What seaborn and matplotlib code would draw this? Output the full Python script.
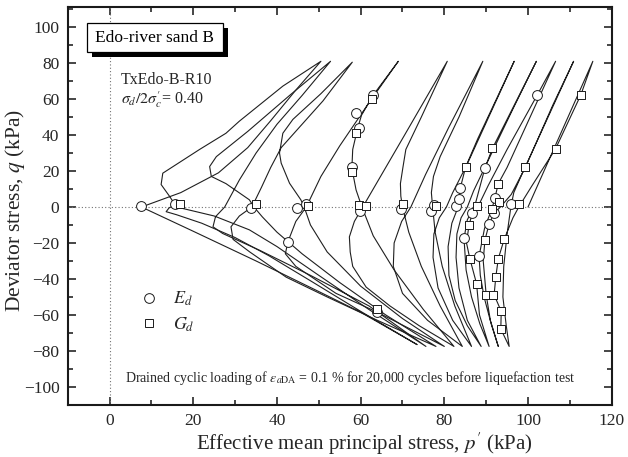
import numpy as np
import pandas as pd
import seaborn as sns
import matplotlib
matplotlib.use("Agg")
import matplotlib.pyplot as plt
from matplotlib.lines import Line2D
from matplotlib.patches import Rectangle
from matplotlib.ticker import MultipleLocator

# ---- effective stress path, one list pair per loading cycle (p' , q in kPa) ----
p_c01 = [100.0, 115.5, 112.6, 106.6, 101.0, 97.8, 96.4, 94.3, 92.9, 92.3, 91.9, 93.6, 93.5, 95.5, 94.8, 94.0, 94.2, 95.0, 95.9]
q_c01 = [0.0, 81.0, 62.2, 32.4, 12.0, 0.0, -6.0, -18.0, -28.7, -38.9, -48.8, -58.0, -67.8, -77.5, -66.0, -50.0, -33.0, -15.0, 0.0]

p_c02 = [95.9, 96.6, 98.5, 110.9, 106.0, 99.4, 96.0, 93.4, 91.9, 90.7, 89.7, 89.3, 90.0, 91.0, 92.9, 91.2, 89.5, 88.6, 88.3, 89.6, 91.5]
q_c02 = [0.0, 8.0, 18.0, 81.0, 57.0, 22.2, 7.0, 0.0, -3.5, -9.5, -18.4, -30.0, -48.8, -63.0, -77.5, -65.0, -50.0, -38.0, -27.4, -12.0, 0.0]

p_c03 = [91.5, 92.1, 92.9, 95.0, 106.6, 102.2, 95.0, 90.5, 88.0, 86.7, 85.9, 85.3, 86.1, 87.7, 88.4, 90.7, 88.5, 86.5, 85.2, 84.7, 85.5, 87.2]
q_c03 = [0.0, 5.2, 13.0, 22.0, 81.0, 62.2, 32.0, 12.0, 0.0, -3.5, -10.0, -20.0, -28.7, -42.6, -60.0, -77.5, -65.0, -50.0, -35.0, -17.5, -7.0, 0.0]

p_c04 = [87.2, 87.9, 89.7, 91.5, 102.0, 96.5, 90.5, 87.0, 85.5, 84.0, 83.0, 82.8, 83.5, 85.5, 88.8, 85.5, 82.6, 81.1, 80.9, 81.8, 83.3]
q_c04 = [0.0, 6.0, 21.6, 32.6, 81.0, 55.0, 26.0, 9.0, 0.0, -6.0, -15.0, -28.0, -45.0, -63.0, -77.5, -66.0, -52.0, -38.0, -22.0, -9.0, 0.0]

p_c05 = [83.3, 83.4, 83.8, 85.1, 88.0, 96.7, 91.0, 85.5, 82.0, 80.5, 78.8, 77.5, 77.3, 78.5, 82.0, 86.5, 82.5, 79.5, 77.8, 77.2]
q_c05 = [0.0, 4.3, 10.4, 22.3, 38.0, 81.0, 52.0, 24.0, 8.0, 0.0, -6.0, -15.0, -28.0, -45.0, -63.0, -77.5, -55.0, -33.0, -14.0, 0.0]

p_c06 = [77.2, 76.9, 77.4, 79.0, 83.5, 89.2, 81.0, 75.5, 72.0, 69.8, 68.0, 67.8, 70.0, 76.0, 84.3, 79.0, 74.5, 71.5, 70.0]
q_c06 = [0.0, 8.0, 17.0, 28.0, 50.0, 81.0, 44.0, 18.0, 0.0, -8.0, -20.0, -33.0, -48.0, -63.0, -77.5, -55.0, -33.0, -14.0, 0.0]

p_c07 = [70.0, 69.6, 69.5, 70.1, 70.8, 74.5, 80.7, 70.5, 60.5, 58.5, 57.3, 57.5, 58.1, 61.3, 67.0, 74.0, 82.3, 75.0, 68.0, 63.0, 60.3]
q_c07 = [0.0, 6.0, 13.0, 22.0, 32.0, 50.0, 81.0, 40.0, 0.0, -8.0, -16.6, -25.0, -33.0, -44.5, -55.0, -66.0, -77.5, -57.0, -35.0, -16.0, 0.0]

p_c08 = [60.3, 58.9, 57.9, 58.1, 59.3, 60.2, 63.0, 69.0, 62.0, 55.0, 50.5, 47.0, 44.5, 42.6, 42.0, 44.5, 54.1, 64.0, 72.0, 80.0, 70.0, 60.0, 52.0, 48.0, 46.5]
q_c08 = [0.0, 9.5, 21.6, 32.0, 44.0, 51.0, 62.2, 81.0, 58.0, 34.0, 17.0, 0.0, -8.0, -19.4, -26.0, -33.0, -48.0, -58.5, -68.0, -77.5, -62.0, -44.0, -25.0, -10.0, 0.0]

p_c09 = [46.5, 45.7, 43.0, 41.0, 40.6, 41.4, 43.8, 50.5, 58.0, 51.0, 46.0, 41.0, 38.5, 36.3, 34.0, 31.0, 29.0, 29.5, 33.5, 42.2, 52.0, 64.0, 78.0, 66.0, 55.0, 46.0, 40.0, 36.5, 34.5]
q_c09 = [0.0, 4.0, 13.2, 24.4, 30.0, 41.0, 48.7, 63.0, 80.5, 59.0, 46.0, 33.0, 22.0, 11.0, 0.0, -5.0, -11.0, -18.0, -25.0, -39.0, -50.0, -63.0, -77.5, -60.0, -42.0, -26.0, -14.0, -5.5, 0.0]

p_c10 = [34.5, 33.4, 27.8, 24.3, 23.9, 25.5, 33.0, 43.0, 52.8, 46.0, 40.0, 35.0, 31.0, 27.5, 25.3, 24.7, 27.0, 35.8, 48.0, 62.0, 75.6, 62.0, 50.0, 40.0, 33.4, 25.0, 16.0]
q_c10 = [0.0, 4.0, 13.0, 17.0, 22.5, 28.0, 42.0, 62.0, 81.0, 62.0, 46.0, 30.0, 15.0, 0.0, -5.4, -11.0, -14.7, -24.0, -38.0, -55.0, -77.5, -57.0, -38.0, -22.0, -12.7, -5.0, 0.0]

p_c11 = [16.0, 14.3, 12.3, 12.7, 21.5, 27.8, 31.0, 41.4, 50.5, 44.5, 38.5, 33.0, 26.0, 17.0, 7.6, 20.0, 35.0, 50.0, 60.0, 73.5, 60.0, 48.0, 38.0, 30.0, 22.0, 16.0, 13.5, 14.2, 15.9]
q_c11 = [0.0, 6.0, 12.5, 18.8, 32.0, 41.0, 47.7, 67.2, 81.0, 65.0, 48.0, 33.0, 19.0, 8.0, 0.0, -13.5, -30.0, -47.0, -58.5, -76.5, -58.0, -41.0, -27.0, -17.0, -9.0, -4.3, -2.6, -0.5, 1.5]

# ---- small-strain stiffness measurement points ----
ed_p = [7.6, 15.5, 33.8, 44.7, 46.9, 42.6, 58.9, 59.5, 58.0, 63.0, 59.9, 69.6, 76.8, 77.6, 82.7, 83.4,
        83.8, 86.7, 89.7, 92.1, 91.9, 90.7, 84.7, 88.3, 95.9, 102.2, 64.0]
ed_q = [0.3, 1.5, -0.8, -0.5, 1.5, -19.4, 52.3, 44.0, 22.5, 62.2, -2.0, -1.0, -2.0, 1.0, 0.3, 4.3,
        10.4, -3.5, 21.6, 5.2, -3.5, -9.5, -17.5, -27.4, 1.5, 62.2, -58.5]

gd_p = [16.7, 35.0, 47.3, 59.0, 57.9, 62.6, 59.7, 61.3, 70.2, 78.0, 85.1, 87.9, 91.5, 92.9, 93.0,
        91.5, 97.8, 99.4, 106.6, 112.6, 63.8, 85.9, 86.1, 87.7, 89.7, 90.0, 91.7, 92.3, 92.9, 94.3,
        93.6, 93.5]
gd_q = [1.5, 1.5, 0.5, 41.3, 19.7, 60.0, 1.0, 0.5, 1.5, 0.5, 22.3, 0.5, 32.6, 13.0, 2.6,
        -1.0, 1.5, 22.2, 32.4, 62.2, -56.5, -10.0, -28.7, -42.6, -18.4, -48.8, -48.8, -38.9, -28.7, -18.0,
        -58.0, -67.8]

x_ticks = [0, 20, 40, 60, 80, 100, 120]
y_ticks = [-100, -80, -60, -40, -20, 0, 20, 40, 60, 80, 100]

cycles = [(p_c01, q_c01), (p_c02, q_c02), (p_c03, q_c03), (p_c04, q_c04), (p_c05, q_c05),
          (p_c06, q_c06), (p_c07, q_c07), (p_c08, q_c08), (p_c09, q_c09), (p_c10, q_c10),
          (p_c11, q_c11)]
path = pd.concat(
    [pd.DataFrame({"p": p, "q": q, "cycle": i + 1, "step": range(len(p))})
     for i, (p, q) in enumerate(cycles)],
    ignore_index=True,
)
ed = pd.DataFrame({"p": ed_p, "q": ed_q})
gd = pd.DataFrame({"p": gd_p, "q": gd_q})

sns.set_style("ticks")
plt.rcParams["font.family"] = ["Liberation Serif", "DejaVu Serif", "DejaVu Sans"]
plt.rcParams["mathtext.fontset"] = "stix"

fig = plt.figure(figsize=(6.28, 4.57), dpi=100)
ax = fig.add_axes([0.108, 0.114, 0.866, 0.870])

# reference axes
ax.axhline(0, color="0.45", lw=0.8, ls=(0, (1, 2)), zorder=1)
ax.axvline(0, color="0.45", lw=0.8, ls=(0, (1, 2)), zorder=1)

sns.lineplot(data=path, x="p", y="q", units="cycle", estimator=None, sort=False,
             color="0.12", lw=0.8, ax=ax, zorder=2)
sns.scatterplot(data=ed, x="p", y="q", marker="o", s=50, facecolor="white",
                edgecolor="0.1", linewidth=0.7, ax=ax, zorder=3)
sns.scatterplot(data=gd, x="p", y="q", marker="s", s=38, facecolor="white",
                edgecolor="0.1", linewidth=0.7, ax=ax, zorder=3)

ax.set_xlim(-10, 120)
ax.set_ylim(-110, 111)
ax.set_xticks(x_ticks)
ax.set_yticks(y_ticks)
ax.xaxis.set_minor_locator(MultipleLocator(10))
ax.yaxis.set_minor_locator(MultipleLocator(10))
ax.tick_params(which="both", direction="in", top=True, right=True, width=1.2, labelsize=12.5)
ax.tick_params(which="major", length=6, pad=6)
ax.tick_params(which="minor", length=3.5)
for s in ax.spines.values():
    s.set_linewidth(1.5)
    s.set_color("0.1")

ax.set_xlabel("Effective mean principal stress, $p'$ (kPa)", fontsize=15)
ax.set_ylabel("Deviator stress, $q$ (kPa)", fontsize=15.5)
ax.xaxis.set_label_coords(0.545, -0.064)
ax.yaxis.set_label_coords(-0.075, 0.49)

# title box with drop shadow
ax.add_patch(Rectangle((0.044, 0.876), 0.25, 0.072, transform=ax.transAxes,
                       fc="black", ec="black", lw=0, zorder=5))
ax.add_patch(Rectangle((0.035, 0.888), 0.25, 0.072, transform=ax.transAxes,
                       fc="white", ec="black", lw=0.9, zorder=6))
ax.text(0.16, 0.924, "Edo-river sand B", transform=ax.transAxes, ha="center", va="center",
        fontsize=12.5, color="black", zorder=7)

ax.text(0.097, 0.818, "TxEdo-B-R10", transform=ax.transAxes, ha="left", va="center", fontsize=11.5)
ax.text(0.097, 0.768, r"$\sigma_d/2\sigma_c'$= 0.40", transform=ax.transAxes, ha="left",
        va="center", fontsize=11.5)

ax.text(0.52, 0.068,
        r"Drained cyclic loading of $\varepsilon_{a\mathrm{DA}}$ = 0.1 % for 20,000 cycles before liquefaction test",
        transform=ax.transAxes, ha="center", va="center", fontsize=10)

handles = [Line2D([], [], marker="o", ls="none", mfc="white", mec="0.1", mew=0.7, ms=7),
           Line2D([], [], marker="s", ls="none", mfc="white", mec="0.1", mew=0.7, ms=6)]
ax.legend(handles, ["$E_d$", "$G_d$"], loc="upper left", bbox_to_anchor=(0.1, 0.33),
          frameon=False, fontsize=13, handletextpad=0.7, labelspacing=0.4, handlelength=1.2)

fig.savefig("out.png", dpi=100)
